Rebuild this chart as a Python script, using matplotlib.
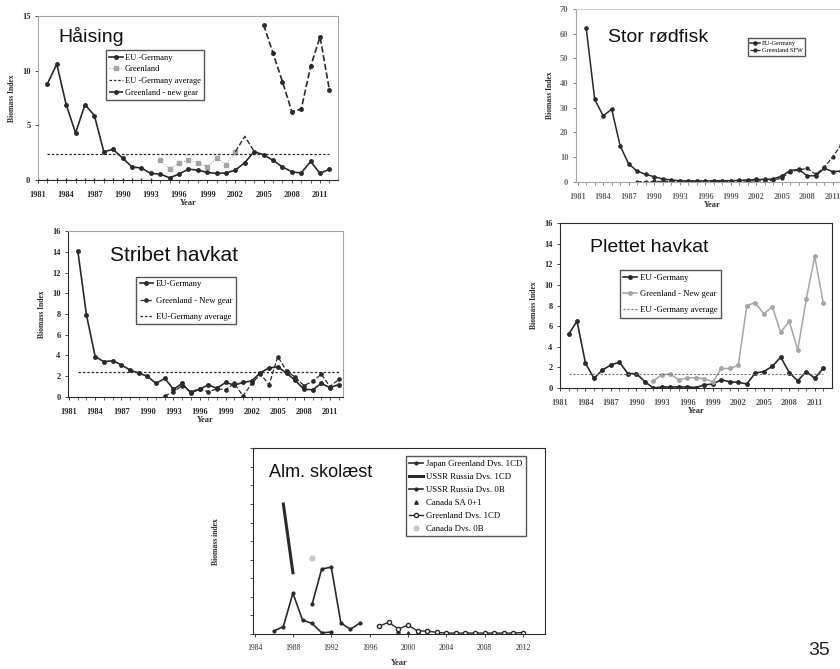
import numpy as np
import matplotlib.pyplot as plt

plt.rcParams['font.family'] = ['Liberation Serif', 'DejaVu Serif']

# Håising
hai_years = list(range(1982, 2013))
hai_eu = [8.8, 10.6, 6.9, 4.3, 6.9, 5.9, 2.6, 2.8, 2.0, 1.2, 1.1, 0.6, 0.55, 0.2, 0.55, 1.0,
          0.9, 0.7, 0.6, 0.65, 0.9, 1.6, 2.6, 2.3, 1.8, 1.2, 0.75, 0.65, 1.7, 0.6, 1.0]
hai_gl_years = list(range(1994, 2003))
hai_gl = [1.8, 1.0, 1.6, 1.8, 1.6, 1.2, 2.0, 1.4, 2.6]
hai_zero_years = list(range(1981, 1994))
hai_ng_early_years = [2002, 2003, 2004]
hai_ng_early = [2.6, 4.0, 2.6]
hai_ng_years = list(range(2005, 2013))
hai_ng = [14.2, 11.6, 9.0, 6.25, 6.5, 10.4, 13.1, 8.2]
hai_avg = 2.4

# Stor rødfisk
red_years = list(range(1982, 2013))
red_eu = [62.3, 33.4, 26.7, 29.4, 14.5, 7.2, 4.3, 3.0, 2.0, 1.1, 0.7, 0.4, 0.3, 0.3, 0.3, 0.4,
          0.4, 0.4, 0.5, 0.7, 0.9, 0.9, 1.1, 2.3, 4.5, 5.0, 2.4, 2.4, 5.4, 4.1, 4.3]
red_gl_years = list(range(1988, 2013))
red_gl = [0.0, 0.0, 0.1, 0.1, 0.1, 0.1, 0.1, 0.1, 0.1, 0.1, 0.1, 0.2, 0.2, 0.3, 0.3, 0.4,
          0.6, 1.5, 4.0, 4.8, 5.4, 3.0, 5.8, 10.0, 15.0]

# Stribet havkat
str_years = list(range(1982, 2013))
str_eu = [14.1, 7.9, 3.9, 3.4, 3.5, 3.1, 2.6, 2.3, 2.0, 1.3, 1.8, 0.75, 1.3, 0.4, 0.75, 1.15,
          0.85, 1.4, 1.15, 1.4, 1.55, 2.35, 2.8, 2.9, 2.3, 1.6, 0.75, 0.7, 1.3, 0.9, 1.2]
str_gl_years = list(range(1992, 2013))
str_gl = [0.1, 0.5, 1.1, 0.5, 0.8, 0.5, 0.8, 0.7, 1.3, 0.1, 1.3, 2.2, 1.2, 3.9, 2.5, 1.9,
          1.1, 1.5, 2.2, 1.0, 1.7]
str_avg = 2.4

# Plettet havkat
plet_years = list(range(1982, 2013))
plet_eu = [5.2, 6.5, 2.4, 0.95, 1.75, 2.25, 2.5, 1.4, 1.4, 0.6, 0.0, 0.1, 0.1, 0.1, 0.1, 0.05,
           0.3, 0.4, 0.8, 0.6, 0.55, 0.4, 1.45, 1.6, 2.1, 3.0, 1.5, 0.7, 1.6, 0.95, 1.9]
plet_gl_years = list(range(1992, 2013))
plet_gl = [0.7, 1.3, 1.35, 0.8, 1.0, 1.0, 0.9, 0.6, 1.9, 1.9, 2.2, 8.0, 8.3, 7.2, 7.9, 5.4,
           6.5, 3.7, 8.6, 12.8, 8.3]
plet_avg = 1.4

# Alm. skolæst
sk_jp_years = [1990, 1991, 1992, 1993, 1994, 1995]
sk_jp = [16, 35, 36, 6, 2.5, 6]
sk_ussr1_years = [1987, 1988]
sk_ussr1 = [70, 33]
sk_ussr0_years = [1986, 1987, 1988, 1989, 1990, 1991, 1992]
sk_ussr0 = [1.6, 4, 22, 7.5, 5.7, 0.7, 1]
sk_cansa_years = [1999, 2000, 2001]
sk_cansa = [1.5, 0.8, 1.2]
sk_gl_years = list(range(1997, 2013))
sk_gl = [4.3, 6.3, 2.7, 4.8, 1.6, 1.6, 0.9, 0.5, 0.5, 0.5, 0.5, 0.5, 0.5, 0.5, 0.5, 0.8]
sk_can0_years = [1990]
sk_can0 = [41]

dark = '#2a2a2a'
gray = '#a5a5a5'

fig = plt.figure(figsize=(8.4, 6.69), dpi=100)


def year_axis(ax, x0, x1, ymax, ystep, tickcol=dark):
    ax.set_xlim(x0, x1)
    ax.set_ylim(0, ymax)
    ax.set_xticks(range(1981, 2012, 3))
    ax.set_xticks(range(1981, 2013), minor=True)
    ax.set_yticks(np.arange(0, ymax + 0.1, ystep))
    ax.tick_params(labelsize=6, length=2, width=0.6, colors=tickcol)
    ax.tick_params(axis='x', pad=6)
    ax.tick_params(which='minor', length=2, width=0.5, color=tickcol)
    for lab in ax.get_xticklabels() + ax.get_yticklabels():
        lab.set_fontweight('bold')
    ax.set_xlabel('Year', fontsize=6, fontweight='bold', labelpad=0, color=dark)
    ax.set_ylabel('Biomass Index', fontsize=5.5, fontweight='bold', labelpad=4, color=dark)


def frame(ax, cols):
    for side, c in zip(['left', 'bottom', 'top', 'right'], cols):
        ax.spines[side].set_color(c)
        ax.spines[side].set_linewidth(0.8)


def title(ax, x, y, txt, size=14):
    ax.text(x, y, txt, transform=ax.transAxes, fontsize=size, family='Liberation Sans',
            ha='left', va='center', color='#111111')


def legend(ax, x, y, size, spacing):
    leg = ax.legend(loc='upper left', bbox_to_anchor=(x, y), bbox_transform=fig.transFigure,
                    fontsize=size, frameon=True, fancybox=False, borderaxespad=0,
                    handlelength=1.6, handletextpad=0.3, labelspacing=spacing,
                    borderpad=0.4, shadow=False)
    leg.get_frame().set_edgecolor(dark)
    leg.get_frame().set_linewidth(1.0)
    return leg


# --- Håising ---
ax1 = fig.add_axes([0.0452, 0.7309, 0.3571, 0.2451])
ax1.plot(hai_years, hai_eu, '-o', color=dark, lw=1.2, ms=2.5, label='EU -Germany')
ax1.plot(hai_gl_years, hai_gl, ':s', color=gray, lw=0.8, ms=2.5, label='Greenland')
ax1.plot(hai_years, [hai_avg] * len(hai_years), '--', color=dark, lw=0.9, dashes=(2, 1.5),
         label='EU -Germany average')
ax1.plot(hai_ng_years, hai_ng, '--o', color=dark, lw=1.2, ms=2.5, label='Greenland - new gear')
ax1.plot(hai_ng_early_years, hai_ng_early, '--', color=dark, lw=1.0)
ax1.plot(hai_zero_years, [0] * len(hai_zero_years), '--|', color=dark, lw=0.8, ms=2.5)
year_axis(ax1, 1981.08, 2012.9, 15, 5)
frame(ax1, [gray, dark, gray, gray])
title(ax1, 0.067, 0.878, 'Håising')
legend(ax1, 0.126, 0.925, 6, 0.45)

# --- Stor rødfisk ---
ax2 = fig.add_axes([0.6857, 0.7284, 0.3248, 0.2581])
ax2.plot(red_years, red_eu, '-o', color=dark, lw=1.1, ms=2.3, label='EU-Germany')
ax2.plot(red_gl_years, red_gl, '--o', color=dark, lw=0.9, ms=2.0, label='Greenland SFW')
year_axis(ax2, 1980.8, 2012.9, 70, 10, tickcol='#6a6a6a')
frame(ax2, [gray, gray, '#d0d0d0', '#d0d0d0'])
title(ax2, 0.117, 0.838, 'Stor rødfisk')
legend(ax2, 0.890, 0.943, 4.5, 0.3)

# --- Stribet havkat ---
ax3 = fig.add_axes([0.081, 0.4066, 0.3274, 0.2481])
ax3.plot(str_years, str_eu, '-o', color=dark, lw=1.2, ms=2.5, label='EU-Germany')
ax3.plot(str_gl_years, str_gl, '--o', color=dark, lw=0.9, ms=2.3, label='Greenland - New gear')
ax3.plot(str_years, [str_avg] * len(str_years), '--', color=dark, lw=0.9, dashes=(2, 1.5),
         label='EU-Germany average')
year_axis(ax3, 1980.88, 2012.5, 16, 2)
frame(ax3, [dark, dark, gray, gray])
title(ax3, 0.153, 0.855, 'Stribet havkat', size=15)
legend(ax3, 0.162, 0.586, 6.2, 0.95)

# --- Plettet havkat ---
ax4 = fig.add_axes([0.6667, 0.42, 0.3234, 0.2462])
ax4.plot(plet_years, plet_eu, '-o', color=dark, lw=1.2, ms=2.5, label='EU -Germany')
ax4.plot(plet_gl_years, plet_gl, '-o', color=gray, lw=1.1, ms=2.5, label='Greenland - New gear')
ax4.plot(plet_years, [plet_avg] * len(plet_years), '--', color='#777777', lw=0.8,
         dashes=(2, 1.5), label='EU -Germany average')
year_axis(ax4, 1981.0, 2013.0, 16, 2)
for lab in ax4.get_xticklabels():
    lab.set_color('#555555')
frame(ax4, [dark, dark, dark, dark])
title(ax4, 0.11, 0.856, 'Plettet havkat')
legend(ax4, 0.738, 0.596, 6.2, 0.95)

# --- Alm. skolæst ---
ax5 = fig.add_axes([0.3008, 0.0523, 0.348, 0.2776])
ax5.plot(sk_jp_years, sk_jp, '-o', color=dark, lw=1.2, ms=2.0, label='Japan Greenland Dvs. 1CD')
ax5.plot(sk_ussr1_years, sk_ussr1, '-', color=dark, lw=2.2, label='USSR Russia Dvs. 1CD')
ax5.plot(sk_ussr0_years, sk_ussr0, '-o', color=dark, lw=1.2, ms=2.0, label='USSR Russia Dvs. 0B')
ax5.plot(sk_cansa_years, sk_cansa, '^', color=dark, ms=2.5, label='Canada SA 0+1')
ax5.plot(sk_gl_years, sk_gl, '-o', color=dark, lw=1.0, ms=3.0, mfc='white',
         label='Greenland Dvs. 1CD')
ax5.plot(sk_can0_years, sk_can0, 'o', color='#c8c8c8', ms=3.5, label='Canada Dvs. 0B')
ax5.set_xlim(1983.8, 2014.3)
ax5.set_ylim(0, 100)
ax5.set_xticks(range(1984, 2013, 4))
ax5.set_yticks(np.arange(0, 101, 10))
ax5.set_yticklabels([])
ax5.tick_params(labelsize=5.5, length=2, width=0.6, colors=dark)
ax5.tick_params(axis='x', pad=5)
ax5.set_xlabel('Year', fontsize=6, fontweight='bold', labelpad=5, color=dark)
ax5.set_ylabel('Biomass index', fontsize=5.5, fontweight='bold', labelpad=18, color=dark)
frame(ax5, [dark, dark, dark, dark])
title(ax5, 0.056, 0.867, 'Alm. skolæst', size=13)
legend(ax5, 0.483, 0.318, 6.3, 0.55)

fig.text(0.962, 0.027, '35', fontsize=14, family='Liberation Sans', ha='left', va='center',
         color='#222222')

fig.savefig('out.png', dpi=100)
